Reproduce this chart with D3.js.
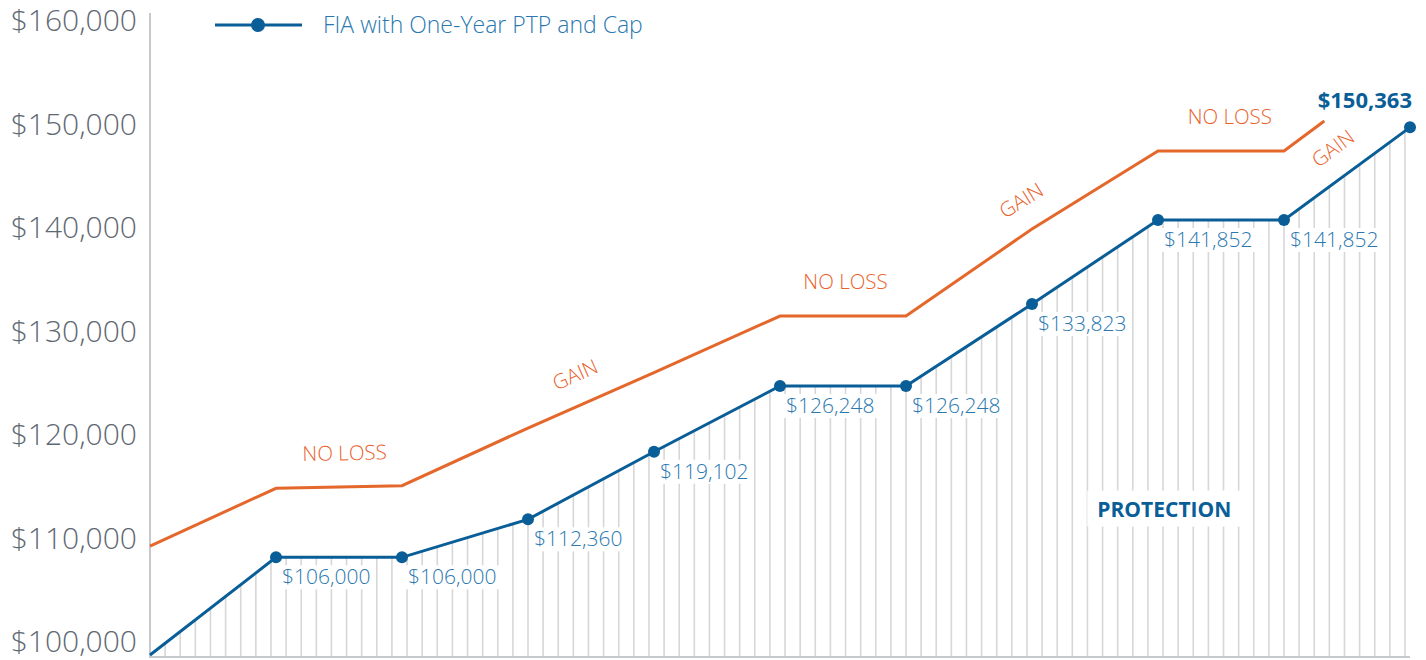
<!DOCTYPE html>
<html>
<head>
<meta charset="utf-8">
<script src="https://cdn.jsdelivr.net/npm/d3@7"></script>
<style>
  body { margin: 0; background: #fff; }
  svg { display: block; font-family: "Open Sans", sans-serif; }
</style>
</head>
<body>
<script>
// years on the x axis, 0..10
let years = d3.range(0, 11);

// FIA account value
let fiaValues = [98940, 108380, 108380, 112050, 118580, 124930, 124930, 132850, 140970, 140970, 149920];
// printed labels for years 1..10
let fiaLabels = ["$106,000", "$106,000", "$112,360", "$119,102", "$126,248", "$126,248",
                 "$133,823", "$141,852", "$141,852", "$150,363"];

// orange index path (stops short of year 10)
let idxYears = [0, 1, 2, 3, 4, 5, 6, 7, 8, 9, 9.32];
let idxValues = [109470, 115050, 115300, 120870, 126230, 131690, 131690, 140100, 147630, 147630, 150530];

// annotations on the orange path, anchored at a year
let noteTexts = ["NO LOSS", "GAIN", "NO LOSS", "GAIN", "NO LOSS", "GAIN"];
let noteYears = [1.55, 3.47, 5.52, 7.04, 8.57, 9.26];

let tickValues = [100000, 110000, 120000, 130000, 140000, 150000, 160000];
let legendLabel = "FIA with One-Year PTP and Cap";

let width = 1426;
let height = 660;
let blue = "#0a5e98";
let blueText = "#2a78b0";
let orange = "#e4672b";
let orangeText = "#e9622c";
let grey = "#c6cacd";

let svg = d3.select("body").append("svg")
    .attr("width", width)
    .attr("height", height);

let x = d3.scaleLinear().domain([0, 10]).range([150, 1410]);
let y = d3.scaleLinear().domain([98750, 160000]).range([657, 23]);

let fiaData = years.map(function(d, i) { return {year: d, value: fiaValues[i]}; });
let idxData = idxYears.map(function(d, i) { return {year: d, value: idxValues[i]}; });

// clip for the hatched area under the FIA line
let area = d3.area()
  .x(function(d) { return x(d.year); })
  .y0(y(98750))
  .y1(function(d) { return y(d.value); });

svg.append("clipPath").attr("id", "under")
  .append("path")
    .attr("d", area(fiaData));

let hatch = svg.append("g").attr("clip-path", "url(#under)");
hatch.selectAll("line")
  .data(d3.range(0.12, 10, 0.12))
  .enter().append("line")
    .attr("x1", function(d) { return x(d); })
    .attr("x2", function(d) { return x(d); })
    .attr("y1", y(98750))
    .attr("y2", 0)
    .attr("stroke", "#d7d7d7")
    .attr("stroke-width", 1.6);

// y axis labels
let yAxis = d3.axisLeft(y)
  .tickValues(tickValues)
  .tickSize(0)
  .tickPadding(13)
  .tickFormat(d3.format("$,.0f"));

let gy = svg.append("g")
    .attr("transform", "translate(150,0)")
    .call(yAxis);
gy.select(".domain").remove();
gy.selectAll("text")
    .attr("font-family", "Open Sans")
    .attr("font-weight", 300)
    .attr("font-size", 30)
    .attr("dy", "0.26em")
    .attr("fill", "#5f6973");

// axis frame
svg.append("line")
    .attr("x1", 150).attr("x2", 150)
    .attr("y1", 13).attr("y2", y(98750) + 1)
    .attr("stroke", grey).attr("stroke-width", 2);
svg.append("line")
    .attr("x1", 149).attr("x2", x(10))
    .attr("y1", y(98750)).attr("y2", y(98750))
    .attr("stroke", grey).attr("stroke-width", 2);

// white boxes go behind labels
let boxes = svg.append("g");

let line = d3.line()
  .x(function(d) { return x(d.year); })
  .y(function(d) { return y(d.value); });

svg.append("path")
    .datum(idxData)
    .attr("d", line)
    .attr("fill", "none")
    .attr("stroke", orange)
    .attr("stroke-width", 3);

svg.append("path")
    .datum(fiaData)
    .attr("d", line)
    .attr("fill", "none")
    .attr("stroke", blue)
    .attr("stroke-width", 3);

svg.selectAll("circle.pt")
  .data(fiaData.slice(1))
  .enter().append("circle")
    .attr("class", "pt")
    .attr("cx", function(d) { return x(d.year); })
    .attr("cy", function(d) { return y(d.value); })
    .attr("r", 6)
    .attr("fill", blue);

// value labels
let labels = svg.selectAll("text.val")
  .data(fiaData.slice(1))
  .enter().append("text")
    .attr("class", "val")
    .text(function(d, i) { return fiaLabels[i]; })
    .attr("fill", blueText)
    .attr("font-size", 21)
    .attr("font-weight", 300)
    .attr("x", function(d) { return x(d.year) + 6; })
    .attr("y", function(d) { return y(d.value) + 27; });

// the last one is bold and sits above its point
labels.filter(function(d, i) { return i === fiaLabels.length - 1; })
    .attr("font-weight", 700)
    .attr("font-size", 22)
    .attr("fill", blue)
    .attr("text-anchor", "end")
    .attr("x", function(d) { return x(d.year) + 2; })
    .attr("y", function(d) { return y(d.value) - 19; });

labels.filter(function(d, i) { return i < fiaLabels.length - 1; }).each(function() {
  let b = this.getBBox();
  boxes.append("rect")
      .attr("x", b.x - 3).attr("y", b.y + 3)
      .attr("width", b.width + 6).attr("height", b.height - 4)
      .attr("fill", "#fff");
});

// orange annotations
function idxAt(t) {
  let i = d3.bisectRight(idxYears, t) - 1;
  i = Math.max(0, Math.min(i, idxYears.length - 2));
  let x0 = x(idxYears[i]), x1 = x(idxYears[i + 1]);
  let y0 = y(idxValues[i]), y1 = y(idxValues[i + 1]);
  let px = x(t);
  return {x: px, y: y0 + (y1 - y0) * (px - x0) / (x1 - x0), angle: Math.atan2(y1 - y0, x1 - x0)};
}

noteTexts.forEach(function(txt, i) {
  let p = idxAt(noteYears[i]);
  let dist = i === noteTexts.length - 1 ? -27 : (Math.abs(p.angle) < 0.05 ? 34 : 30);
  let cx = p.x + Math.sin(p.angle) * dist;
  let cy = p.y - Math.cos(p.angle) * dist;
  svg.append("text")
      .attr("transform", "translate(" + cx + "," + cy + ") rotate(" + (p.angle * 180 / Math.PI) + ")")
      .attr("text-anchor", "middle")
      .attr("dy", "0.36em")
      .attr("font-size", 20.5)
      .attr("font-weight", 300)
      .attr("fill", orangeText)
      .text(txt);
});

// PROTECTION
let prot = svg.append("text")
    .attr("x", x(8.05))
    .attr("y", y(113050))
    .attr("dy", "0.36em")
    .attr("text-anchor", "middle")
    .attr("font-size", 21)
    .attr("font-weight", 700)
    .attr("fill", blue)
    .text("PROTECTION");
let pb = prot.node().getBBox();
boxes.append("rect")
    .attr("x", pb.x - 10).attr("y", pb.y - 4)
    .attr("width", pb.width + 20).attr("height", pb.height + 8)
    .attr("fill", "#fff");

// legend
let legend = svg.append("g").attr("transform", "translate(215,25)");
legend.append("line")
    .attr("x1", 0).attr("x2", 87)
    .attr("stroke", blue).attr("stroke-width", 3);
legend.append("circle")
    .attr("cx", 43).attr("r", 7)
    .attr("fill", blue);
legend.append("text")
    .attr("x", 108)
    .attr("dy", "0.36em")
    .attr("font-size", 23)
    .attr("font-weight", 300)
    .attr("fill", blueText)
    .text(legendLabel);
</script>
</body>
</html>
